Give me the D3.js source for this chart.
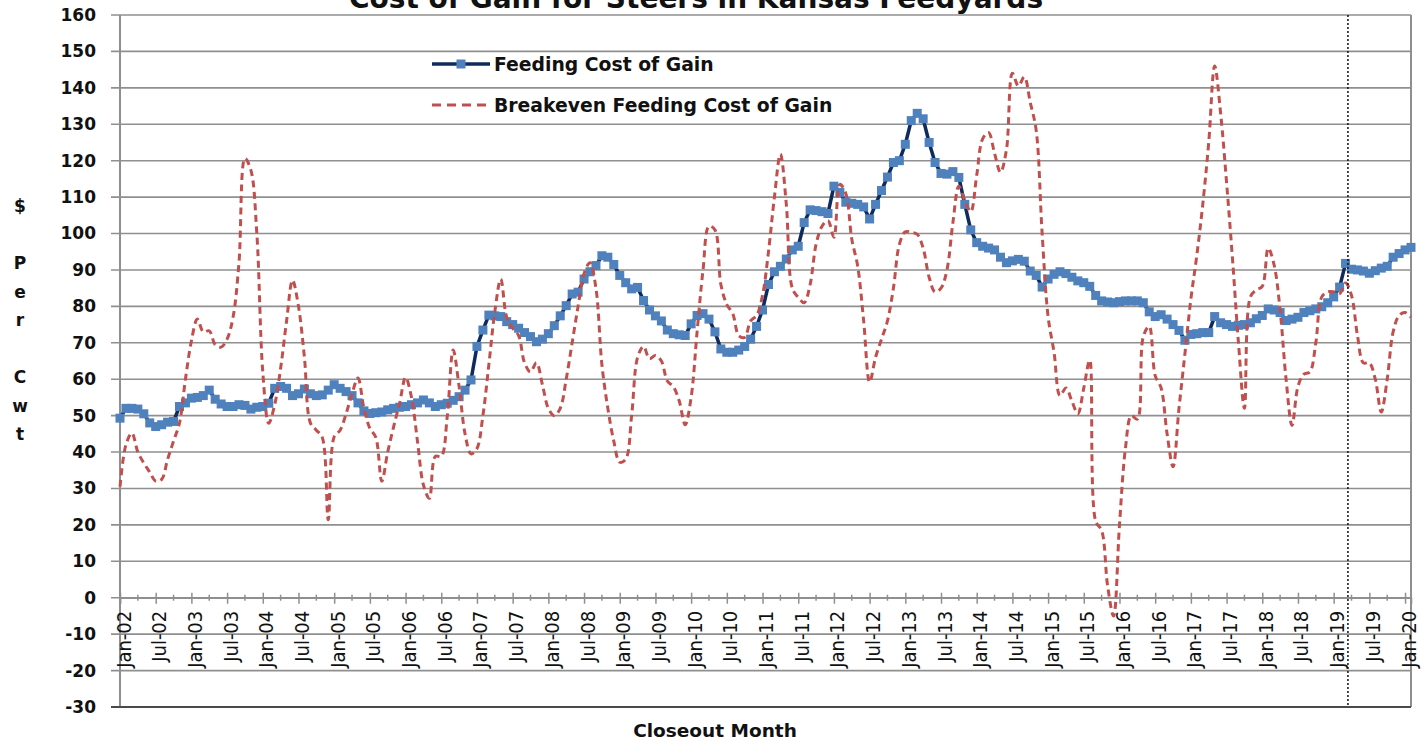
<!DOCTYPE html>
<html lang="en">

<head>
    <meta charset="UTF-8">
    <title>Cost of Gain for Steers in Kansas Feedyards</title>
    <script src="https://d3js.org/d3.v7.min.js"></script>
    <style>
        body { margin: 0; background: #fff; }
        svg { display: block; }
    </style>
</head>

<body>
    <script>
        // Monthly closeouts Jan-02 .. Feb-20, $ per cwt
        const feedingCost = [
            49.3, 52, 52, 51.8, 50.5, 48, 47, 47.5, 48.2, 48.4, 52.5, 53.5,          // 2002
            54.8, 55, 55.5, 57, 54.5, 53.2, 52.5, 52.5, 53, 52.8, 51.8, 52.3,        // 2003
            52.5, 53.4, 57.5, 58, 57.5, 55.5, 56, 57.3, 56, 55.5, 55.7, 57,          // 2004
            58.5, 57.5, 56.6, 55.5, 53.5, 51.3, 50.6, 50.8, 51, 51.6, 52, 52.3,      // 2005
            52.5, 53, 53.5, 54.3, 53.5, 52.5, 53, 53.4, 54.2, 55.2, 57, 59.8,        // 2006
            69, 73.5, 77.6, 77.4, 77.2, 75.8, 75, 74, 72.8, 71.7, 70.3, 71,          // 2007
            72.5, 74.7, 77.4, 80.2, 83.4, 83.9, 87.5, 89.5, 91.2, 93.9, 93.5, 91.5,  // 2008
            88.5, 86.5, 84.8, 85.2, 81.6, 79, 77.4, 76, 73.5, 72.5, 72.2, 72,        // 2009
            75.2, 77.5, 78, 76.5, 73, 68.3, 67.4, 67.4, 68, 69, 71, 74.5,            // 2010
            79, 86, 89.5, 91, 93, 95.5, 96.5, 103, 106.5, 106.3, 106, 105.5,         // 2011
            113, 111.3, 108.6, 108.3, 108, 107.3, 104, 108, 111.8, 115.5, 119.5, 120, // 2012
            124.5, 131, 133, 131.5, 125, 119.5, 116.5, 116.3, 117, 115.4, 108, 101,  // 2013
            97.5, 96.5, 96, 95.5, 93.5, 92, 92.5, 92.9, 92.4, 89.7, 88.5, 85.3,      // 2014
            87.5, 88.8, 89.5, 89, 88, 87, 86.5, 85.5, 83, 81.5, 81.2, 81,            // 2015
            81.3, 81.5, 81.5, 81.5, 81, 78.5, 77.2, 77.7, 76.5, 75, 73.4, 70.7,      // 2016
            72.3, 72.5, 72.8, 72.8, 77.2, 75.5, 75, 74.5, 74.8, 75, 75.5, 76.6,      // 2017
            77.5, 79.3, 79, 78.3, 76.1, 76.5, 77, 78.3, 78.8, 79.3, 79.9, 81,        // 2018
            82.6, 85.3, 91.8, 90.2, 90, 89.7, 89.1, 89.8, 90.5, 91, 93.5, 94.5,      // 2019
            95.5, 96.2                                                               // 2020
        ];

        const breakevenCost = [
            30.5, 42, 45.2, 40, 37, 34.5, 32, 32.5, 38, 43, 48, 60,                  // 2002
            70.5, 76.5, 73, 73.3, 69.5, 68.8, 71, 77, 92, 120.6, 117.4, 100,         // 2003
            62, 47.9, 53, 63, 76, 87.2, 80, 66, 48, 46, 44, 21.4,                    // 2004
            44.2, 46, 50.5, 56, 60.3, 52, 46.5, 44, 32, 40, 47, 53.4,                // 2005
            60.5, 55, 43, 31, 27.3, 38.8, 38.8, 49.7, 68, 58, 45, 39.5,              // 2006
            41, 50, 64, 78.5, 87.5, 77, 74, 72, 64.5, 62, 64.5, 58.5,                // 2007
            52, 50, 52, 60, 70, 80, 89, 92, 85, 64, 52, 43,                          // 2008
            37.2, 38, 50, 66, 69, 65.6, 66.5, 65, 59.5, 58, 54, 47.5,                // 2009
            55, 73, 90, 102, 101, 86, 80.5, 78, 72, 71.5, 76, 77.5,                  // 2010
            83, 95, 110, 121.8, 108, 85, 82.5, 81, 86, 97, 102, 103.5,               // 2011
            99, 113.5, 111, 98.5, 91, 76, 59.2, 66, 71, 76, 85, 97,                  // 2012
            100.5, 100.3, 99.8, 96, 88, 84, 85, 90, 103, 113, 109, 106,              // 2013
            116, 126, 127.7, 122, 116.8, 123, 144, 140.5, 143, 136, 128.3, 100,      // 2014
            77.2, 67.4, 55.5, 57.6, 54, 50.5, 57.6, 65.2, 21, 18.5, 3.3, -5,         // 2015
            20, 41, 50, 49, 71.7, 74.5, 61, 57.6, 45, 36, 52, 67,                    // 2016
            82, 94, 108, 125, 146, 133, 114, 93, 70, 52, 82.6, 84.5,                 // 2017
            85.5, 96, 91.3, 79, 60, 47.3, 58, 61.4, 62, 70, 82.6, 84,                // 2018
            84, 83.5, 86.4, 83, 72, 64.5, 64.5, 60, 51, 60, 73, 77.5,                // 2019
            78.3, 77                                                                 // 2020
        ];

        const xTickLabels = [
            "Jan-02", "Jul-02", "Jan-03", "Jul-03", "Jan-04", "Jul-04", "Jan-05", "Jul-05",
            "Jan-06", "Jul-06", "Jan-07", "Jul-07", "Jan-08", "Jul-08", "Jan-09", "Jul-09",
            "Jan-10", "Jul-10", "Jan-11", "Jul-11", "Jan-12", "Jul-12", "Jan-13", "Jul-13",
            "Jan-14", "Jul-14", "Jan-15", "Jul-15", "Jan-16", "Jul-16", "Jan-17", "Jul-17",
            "Jan-18", "Jul-18", "Jan-19", "Jul-19", "Jan-20"
        ];
        const yTicks = [-30, -20, -10, 0, 10, 20, 30, 40, 50, 60, 70, 80, 90, 100, 110, 120, 130, 140, 150, 160];
        const yTitle = ["$", "", "P", "e", "r", "", "C", "w", "t"];
        const seriesNames = ["Feeding Cost of Gain", "Breakeven Feeding Cost of Gain"];
        const markerMonth = 206.4; // dotted line, Mar-19

        const boldFont = "'DejaVu Sans', Verdana, sans-serif";
        const narrowFont = "'Liberation Sans Narrow', 'Arial Narrow', 'DejaVu Sans Condensed', sans-serif";
        const blueLine = "#0f2a5c", blueMarker = "#4f81bd", redLine = "#c0504d", gridColor = "#8f8f8f";

        // Set dimensions and margins
        const margin = { top: 15, right: 15, bottom: 35, left: 120 },
            width = 1426 - margin.left - margin.right,
            height = 742 - margin.top - margin.bottom;

        const svg = d3.select("body")
            .append("svg")
            .attr("width", 1426)
            .attr("height", 742);

        const g = svg.append("g")
            .attr("transform", `translate(${margin.left}, ${margin.top})`);

        const x = d3.scaleLinear()
            .domain([0, feedingCost.length - 1])
            .range([0, width]);

        const y = d3.scaleLinear()
            .domain([-30, 160])
            .range([height, 0]);

        // horizontal grid lines (they stick out left of the axis like ticks)
        g.append("g")
            .selectAll("line")
            .data(yTicks)
            .join("line")
            .attr("x1", -9)
            .attr("x2", width)
            .attr("y1", d => y(d))
            .attr("y2", d => y(d))
            .attr("stroke", gridColor)
            .attr("stroke-width", 1.6);

        // Y axis labels (plain hyphen for negatives, like Excel)
        const yAxis = g.append("g")
            .call(d3.axisLeft(y).tickValues(yTicks).tickFormat(d => String(d)).tickSize(0).tickPadding(24));
        yAxis.select(".domain").remove();
        yAxis.selectAll("text")
            .attr("font-family", boldFont)
            .attr("font-size", 17)
            .attr("font-weight", "bold")
            .attr("fill", "#111");

        // plot frame
        g.append("line").attr("x1", 0).attr("x2", 0).attr("y1", 0).attr("y2", height)
            .attr("stroke", gridColor).attr("stroke-width", 2);
        g.append("line").attr("x1", width).attr("x2", width).attr("y1", 0).attr("y2", height)
            .attr("stroke", gridColor).attr("stroke-width", 2);
        g.append("line").attr("x1", -9).attr("x2", width).attr("y1", height).attr("y2", height)
            .attr("stroke", "#4a4a4a").attr("stroke-width", 2.2);

        // X axis sits on zero
        const majorMonths = xTickLabels.map((d, i) => i * 6);
        const minorMonths = majorMonths.slice(0, -1).map(m => m + 3);

        const xAxis = g.append("g")
            .attr("transform", `translate(0, ${y(0)})`)
            .call(d3.axisBottom(x).tickValues(majorMonths).tickFormat((d, i) => xTickLabels[i]).tickSize(6));
        xAxis.select(".domain").attr("stroke", gridColor).attr("stroke-width", 1.6);
        xAxis.selectAll(".tick line")
            .attr("y1", -5)
            .attr("y2", 6)
            .attr("stroke", gridColor)
            .attr("stroke-width", 1.5);
        xAxis.selectAll(".tick text")
            .attr("transform", "rotate(-90)")
            .attr("text-anchor", "end")
            .attr("x", -13)
            .attr("y", 0)
            .attr("dy", "0.5em")
            .attr("font-family", narrowFont)
            .attr("font-size", 20)
            .attr("fill", "#111");

        xAxis.append("g")
            .selectAll("line")
            .data(minorMonths)
            .join("line")
            .attr("x1", d => x(d))
            .attr("x2", d => x(d))
            .attr("y1", -3)
            .attr("y2", 3)
            .attr("stroke", gridColor)
            .attr("stroke-width", 1.5);

        // Feeding cost of gain: dark line with square markers
        const line = d3.line()
            .x((d, i) => x(i))
            .y(d => y(d));

        g.append("path")
            .datum(feedingCost)
            .attr("d", line)
            .attr("fill", "none")
            .attr("stroke", blueLine)
            .attr("stroke-width", 3.5);

        g.append("g")
            .selectAll("rect")
            .data(feedingCost)
            .join("rect")
            .attr("x", (d, i) => x(i) - 4.5)
            .attr("y", d => y(d) - 4.5)
            .attr("width", 9)
            .attr("height", 9)
            .attr("fill", blueMarker);

        // Breakeven: smoothed dashed red line
        const smoothLine = d3.line()
            .x((d, i) => x(i))
            .y(d => y(d))
            .curve(d3.curveCatmullRom.alpha(0.5));

        g.append("path")
            .datum(breakevenCost)
            .attr("d", smoothLine)
            .attr("fill", "none")
            .attr("stroke", redLine)
            .attr("stroke-width", 3)
            .attr("stroke-dasharray", "7,4.5");

        // dotted marker line
        g.append("line")
            .attr("x1", x(markerMonth))
            .attr("x2", x(markerMonth))
            .attr("y1", 0)
            .attr("y2", height)
            .attr("stroke", "#111")
            .attr("stroke-width", 1.5)
            .attr("stroke-dasharray", "2,2");

        // Legend
        const legend = svg.append("g").attr("transform", "translate(432, 64)");
        legend.append("line").attr("x1", 0).attr("x2", 58).attr("y1", 0).attr("y2", 0)
            .attr("stroke", blueLine).attr("stroke-width", 3.5);
        legend.append("rect").attr("x", 24.5).attr("y", -4.5).attr("width", 9).attr("height", 9)
            .attr("fill", blueMarker);
        legend.append("line").attr("x1", 0).attr("x2", 58).attr("y1", 41).attr("y2", 41)
            .attr("stroke", redLine).attr("stroke-width", 3).attr("stroke-dasharray", "9,6");
        legend.selectAll("text")
            .data(seriesNames)
            .join("text")
            .attr("x", 62)
            .attr("y", (d, i) => 6.5 + i * 41)
            .attr("font-family", boldFont)
            .attr("font-size", 18.8)
            .attr("font-weight", "bold")
            .attr("fill", "#111")
            .text(d => d);

        // Title (cut off at the top like the original)
        svg.append("text")
            .attr("x", 696)
            .attr("y", 8)
            .attr("text-anchor", "middle")
            .attr("font-family", boldFont)
            .attr("font-size", 28)
            .attr("font-weight", "bold")
            .attr("fill", "#111")
            .text("Cost of Gain for Steers in Kansas Feedyards");

        // Y axis title, stacked letters
        svg.append("g")
            .selectAll("text")
            .data(yTitle)
            .join("text")
            .attr("x", 20)
            .attr("y", (d, i) => 206 + i * 28.5)
            .attr("text-anchor", "middle")
            .attr("dominant-baseline", "central")
            .attr("font-family", boldFont)
            .attr("font-size", 17)
            .attr("font-weight", "bold")
            .attr("fill", "#111")
            .text(d => d);

        // X axis title
        svg.append("text")
            .attr("x", 715)
            .attr("y", 737)
            .attr("text-anchor", "middle")
            .attr("font-family", boldFont)
            .attr("font-size", 18.5)
            .attr("font-weight", "bold")
            .attr("fill", "#111")
            .text("Closeout Month");
    </script>
</body>

</html>
